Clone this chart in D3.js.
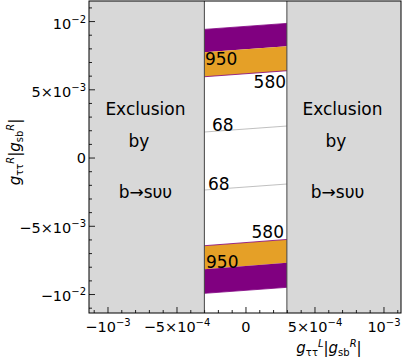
<!doctype html>
<html lang="en">
<head>
<meta charset="utf-8">
<title>Exclusion by b→sνν</title>
<style>
  html, body { margin: 0; padding: 0; background: #fff; overflow: hidden; }
  svg { display: block; font-family: "DejaVu Sans", sans-serif; }
</style>
</head>
<body>
<svg id="chart" width="409" height="361"></svg>
<script src="https://cdn.jsdelivr.net/npm/d3@7/dist/d3.min.js"></script>
<script>
// allowed strip in x (outside it: excluded by b -> s nu nu)
const allowedX = [-2.98e-4, 3.0e-4];

// contour lines, value at the left and right edge of the strip
const purpleTop = [9.39e-3, 9.83e-3];
const line950Top = [7.71e-3, 8.15e-3];
const line580Top = [5.92e-3, 6.36e-3];
const line68Top = [1.87e-3, 2.31e-3];
const line68Bot = [-2.38e-3, -1.94e-3];
const line580Bot = [-6.46e-3, -6.0e-3];
const line950Bot = [-8.19e-3, -7.71e-3];
const purpleBot = [-9.95e-3, -9.51e-3];

// contour labels
const contourText = ["950", "580", "68", "68", "580", "950"];
const contourX = [-2.94e-4, 2.94e-4, -2.43e-4, -2.72e-4, 2.79e-4, -2.86e-4];
const contourY = [6.78e-3, 5.09e-3, 1.94e-3, -2.38e-3, -5.90e-3, -8.10e-3];
const contourAnchor = ["start", "end", "start", "start", "end", "start"];

// text in the excluded regions
const exclText = ["Exclusion", "by", "b→sυυ"];
const exclY = [3.11e-3, 0.77e-3, -2.97e-3];
const exclLeftX = [-7.25e-4, -7.72e-4, -7.25e-4];
const exclRightX = [7.03e-4, 6.56e-4, 6.67e-4];

// ticks
const xTicks = [-1e-3, -5e-4, 0, 5e-4, 1e-3];
const xTickBase = ["−10", "−5×10", "0", "5×10", "10"];
const xTickExp = ["−3", "−4", "", "−4", "−3"];
const yTicks = [-0.01, -0.005, 0, 0.005, 0.01];
const yTickBase = ["−10", "−5×10", "0", "5×10", "10"];
const yTickExp = ["−2", "−3", "", "−3", "−2"];

const W = 409, H = 361;
const margin = {top: 1, right: 8, bottom: 48, left: 89};

const svg = d3.select("#chart");

const x = d3.scaleLinear()
    .domain([-1.134e-3, 1.127e-3])
    .range([margin.left, W - margin.right]);
const y = d3.scaleLinear()
    .domain([-11.39e-3, 11.47e-3])
    .range([H - margin.bottom, margin.top]);

const [xl, xr] = x.range();
const [yb, yt] = y.range();

// excluded regions
svg.append("g").selectAll("rect")
    .data([[x.domain()[0], allowedX[0]], [allowedX[1], x.domain()[1]]])
    .enter().append("rect")
    .attr("x", d => x(d[0]))
    .attr("y", yt)
    .attr("width", d => x(d[1]) - x(d[0]))
    .attr("height", yb - yt)
    .attr("fill", "#d8d8d8");

// bands between contours
function pts(lo, hi) {
    return allowedX.map((xv, i) => ({x: xv, lo: lo[i], hi: hi[i]}));
}
const area = d3.area()
    .x(d => x(d.x))
    .y0(d => y(d.lo))
    .y1(d => y(d.hi));

const bands = [
    {lo: line950Top, hi: purpleTop, c: "#800080"},
    {lo: line580Top, hi: line950Top, c: "#e5a027"},
    {lo: line950Bot, hi: line580Bot, c: "#e5a027"},
    {lo: purpleBot, hi: line950Bot, c: "#800080"}
];
svg.append("g").selectAll("path")
    .data(bands)
    .enter().append("path")
    .attr("d", d => area(pts(d.lo, d.hi)))
    .attr("fill", d => d.c);

// contour lines
const line = d3.line().x(d => x(d.x)).y(d => y(d.v));
const lines = [
    {v: purpleTop, c: "#800080", w: 0.8},
    {v: line580Top, c: "#800080", w: 0.8},
    {v: line68Top, c: "#b0b0b0", w: 0.8},
    {v: line68Bot, c: "#b0b0b0", w: 0.8},
    {v: line580Bot, c: "#800080", w: 0.8},
    {v: purpleBot, c: "#800080", w: 0.8}
];
svg.append("g").selectAll("path")
    .data(lines)
    .enter().append("path")
    .attr("d", d => line(allowedX.map((xv, i) => ({x: xv, v: d.v[i]}))))
    .attr("fill", "none")
    .attr("stroke", d => d.c)
    .attr("stroke-width", d => d.w);

// strip borders
svg.append("g").selectAll("line")
    .data(allowedX)
    .enter().append("line")
    .attr("x1", d => x(d)).attr("x2", d => x(d))
    .attr("y1", yt).attr("y2", yb)
    .attr("stroke", "#444")
    .attr("stroke-width", 1);

// contour labels
svg.append("g").selectAll("text")
    .data(contourText)
    .enter().append("text")
    .attr("x", (d, i) => x(contourX[i]))
    .attr("y", (d, i) => y(contourY[i]))
    .attr("text-anchor", (d, i) => contourAnchor[i])
    .attr("font-size", 17)
    .text(d => d);

// exclusion labels
[exclLeftX, exclRightX].forEach(xs => {
    svg.append("g").selectAll("text")
        .data(exclText)
        .enter().append("text")
        .attr("x", (d, i) => x(xs[i]))
        .attr("y", (d, i) => y(exclY[i]))
        .attr("text-anchor", "middle")
        .attr("font-size", 17)
        .text(d => d);
});

// superscripted tick labels
function sciLabel(text, base, exp) {
    text.text(null);
    text.append("tspan").text(base);
    if (exp) {
        text.append("tspan")
            .attr("font-size", "10px")
            .attr("dy", -6)
            .text(exp);
    }
}

// y axis
const yAxis = d3.axisLeft(y).tickValues(yTicks).tickSize(-6).tickPadding(3);
const ya = svg.append("g")
    .attr("transform", `translate(${xl},0)`)
    .call(yAxis);
ya.select(".domain").remove();
ya.selectAll(".tick text")
    .attr("font-size", 14.5)
    .attr("font-family", "DejaVu Sans")
    .attr("fill", "#000")
    .attr("dy", (d, i) => yTickExp[i] ? "0.48em" : "0.35em")
    .each(function(d, i) { sciLabel(d3.select(this), yTickBase[i], yTickExp[i]); });
ya.selectAll(".tick line").attr("stroke", "#222");

const yMinor = d3.range(-11, 12).filter(k => k % 5 !== 0).map(k => k * 1e-3);
const ym = svg.append("g")
    .attr("transform", `translate(${xl},0)`)
    .call(d3.axisLeft(y).tickValues(yMinor).tickSize(-3).tickFormat(""));
ym.select(".domain").remove();
ym.selectAll(".tick line").attr("stroke", "#222");

// x axis
const xAxis = d3.axisBottom(x).tickValues(xTicks).tickSize(-6).tickPadding(9);
const xa = svg.append("g")
    .attr("transform", `translate(0,${yb})`)
    .call(xAxis);
xa.select(".domain").remove();
xa.selectAll(".tick text")
    .attr("font-size", 14.5)
    .attr("font-family", "DejaVu Sans")
    .attr("fill", "#000")
    .each(function(d, i) { sciLabel(d3.select(this), xTickBase[i], xTickExp[i]); });
xa.selectAll(".tick line").attr("stroke", "#222");

const xMinor = d3.range(-11, 12).filter(k => k % 5 !== 0).map(k => k * 1e-4);
const xm = svg.append("g")
    .attr("transform", `translate(0,${yb})`)
    .call(d3.axisBottom(x).tickValues(xMinor).tickSize(-3).tickFormat(""));
xm.select(".domain").remove();
xm.selectAll(".tick line").attr("stroke", "#222");

// frame
svg.append("rect")
    .attr("x", xl).attr("y", yt)
    .attr("width", xr - xl).attr("height", yb - yt)
    .attr("fill", "none")
    .attr("stroke", "#000")
    .attr("stroke-width", 1);

// axis titles: g_tautau^{L/R} |g_sb^R|
function mathLabel(text, sup1) {
    const parts = [
        {t: "g", s: 15, sh: 0, it: true},
        {t: "ττ", s: 10, sh: 3, it: false},
        {t: sup1, s: 10, sh: -6, it: true},
        {t: "|", s: 15, sh: 0, it: false},
        {t: "g", s: 15, sh: 0, it: true},
        {t: "sb", s: 10, sh: 3, it: false},
        {t: "R", s: 10, sh: -6, it: true},
        {t: "|", s: 15, sh: 0, it: false}
    ];
    let cur = 0;
    parts.forEach(p => {
        text.append("tspan")
            .attr("font-size", p.s + "px")
            .attr("font-style", p.it ? "italic" : "normal")
            .attr("dy", p.sh - cur)
            .text(p.t);
        cur = p.sh;
    });
}

const xTitle = svg.append("text")
    .attr("x", 329)
    .attr("y", 353)
    .attr("text-anchor", "middle");
mathLabel(xTitle, "L");

const yTitle = svg.append("text")
    .attr("transform", "translate(20,152) rotate(-90)")
    .attr("text-anchor", "middle");
mathLabel(yTitle, "R");
</script>
</body>
</html>
